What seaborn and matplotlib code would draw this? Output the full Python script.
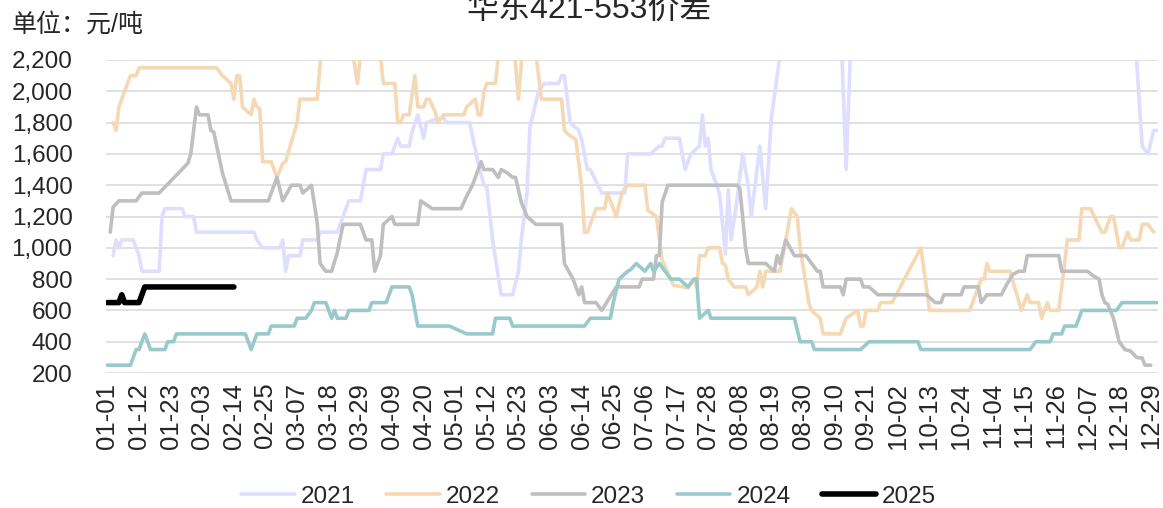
import matplotlib
matplotlib.use("Agg")
from matplotlib import pyplot as plt
from matplotlib.ticker import FuncFormatter
import pandas as pd
import seaborn as sns

# day index in a leap-year calendar (0 = 01-01), values in 元/吨
days_2021 = [2, 3, 4, 5, 9, 11, 12, 18, 19, 20, 26, 27, 30, 31, 51, 52, 54, 60, 61, 62, 63, 67, 68, 73, 74,
             80, 82, 84, 88, 90, 95, 96, 99, 101, 102, 105, 106, 108, 110, 111, 114, 117, 118, 126, 129, 131,
             132, 134, 137, 141, 143, 144, 146, 147, 150, 152, 157, 158, 159, 161, 164, 165, 167, 168, 172,
             180, 181, 189, 192, 193, 194, 199, 201, 203, 206, 207, 208, 209, 210, 212, 213, 215, 216, 217,
             219, 221, 223, 224, 227, 229, 231, 236, 255, 257, 259, 357, 360, 362, 364, 365]
vals_2021 = [950, 1050, 1000, 1050, 1050, 950, 850, 850, 1200, 1250, 1250, 1200, 1200, 1100, 1100, 1050, 1000,
             1000, 1050, 850, 950, 950, 1050, 1050, 1100, 1100, 1200, 1300, 1300, 1500, 1500, 1600, 1600, 1700,
             1650, 1650, 1740, 1850, 1700, 1800, 1820, 1830, 1800, 1800, 1540, 1400, 1390, 1050, 700, 700, 850,
             1050, 1350, 1770, 2000, 2050, 2050, 2100, 2100, 1800, 1750, 1690, 1500, 1500, 1350, 1350, 1600,
             1600, 1650, 1650, 1700, 1700, 1500, 1600, 1650, 1850, 1650, 1700, 1500, 1400, 1340, 960, 1370,
             1050, 1300, 1600, 1390, 1200, 1650, 1250, 1830, 2500, 2500, 1500, 2500, 2500, 1650, 1600, 1750, 1750]

days_2022 = [2, 3, 4, 6, 8, 10, 11, 38, 40, 43, 44, 45, 46, 47, 50, 51, 52, 53, 54, 57, 59, 61, 62, 66, 67, 73,
             75, 84, 87, 89, 94, 96, 100, 101, 102, 103, 105, 107, 108, 110, 111, 112, 114, 115, 117, 124, 125,
             128, 129, 130, 131, 132, 135, 137, 141, 143, 145, 148, 151, 158, 159, 160, 163, 165, 166, 167, 170,
             173, 174, 177, 179, 181, 187, 188, 191, 193, 197, 202, 204, 205, 206, 208, 209, 213, 214, 215, 216,
             218, 222, 223, 226, 227, 228, 229, 234, 236, 238, 240, 241, 244, 245, 248, 249, 255, 257, 261, 262,
             263, 264, 268, 269, 273, 283, 285, 286, 300, 304, 305, 306, 307, 314, 318, 320, 321, 324, 325, 327,
             328, 331, 334, 338, 339, 342, 346, 347, 349, 350, 352, 353, 355, 356, 359, 360, 362, 364]
vals_2022 = [1800, 1750, 1900, 2000, 2100, 2100, 2150, 2150, 2100, 2050, 1950, 2100, 2100, 1900, 1850, 1950,
             1900, 1890, 1550, 1550, 1450, 1540, 1550, 1800, 1950, 1950, 2400, 2400, 2050, 2400, 2400, 2050,
             2050, 1800, 1800, 1850, 1850, 2100, 1900, 1900, 1950, 1950, 1870, 1800, 1850, 1850, 1900, 1950,
             1850, 1850, 2000, 2050, 2050, 2400, 2400, 1950, 2400, 2400, 1950, 1950, 1750, 1730, 1690, 1390,
             1100, 1100, 1250, 1250, 1350, 1200, 1350, 1400, 1400, 1240, 1200, 920, 760, 745, 800, 750, 950,
             950, 1000, 1000, 900, 890, 800, 750, 750, 700, 750, 850, 750, 850, 850, 1050, 1250, 1200, 1000,
             650, 600, 550, 450, 450, 550, 600, 500, 500, 600, 600, 650, 650, 1000, 740, 600, 600, 800, 800,
             900, 850, 850, 600, 700, 650, 650, 550, 650, 600, 600, 1050, 1050, 1250, 1250, 1100, 1100, 1200,
             1200, 1000, 1000, 1100, 1050, 1050, 1150, 1150, 1100]

days_2023 = [1, 2, 4, 10, 12, 18, 28, 29, 31, 32, 35, 36, 37, 40, 43, 56, 59, 61, 64, 67, 68, 71, 73, 74, 76,
             78, 80, 82, 88, 90, 92, 93, 95, 96, 99, 100, 108, 109, 113, 123, 125, 127, 129, 130, 131, 134, 136,
             137, 139, 141, 142, 144, 146, 149, 158, 159, 162, 164, 165, 166, 170, 172, 177, 185, 186, 190, 191,
             192, 193, 195, 219, 220, 221, 222, 223, 229, 232, 233, 234, 236, 239, 243, 247, 248, 249, 255, 256,
             257, 262, 263, 265, 268, 285, 288, 290, 291, 297, 298, 303, 304, 306, 311, 313, 315, 317, 319, 320,
             331, 332, 341, 343, 345, 346, 347, 348, 350, 352, 354, 356, 358, 360, 361, 363]
vals_2023 = [1100, 1260, 1300, 1300, 1350, 1350, 1540, 1600, 1900, 1850, 1850, 1750, 1740, 1480, 1300, 1300,
             1450, 1300, 1400, 1400, 1350, 1400, 1160, 900, 850, 850, 970, 1150, 1150, 1050, 1050, 850, 950,
             1150, 1200, 1150, 1150, 1300, 1250, 1250, 1330, 1400, 1500, 1550, 1500, 1500, 1450, 1500, 1480,
             1450, 1450, 1290, 1200, 1150, 1150, 900, 800, 700, 750, 650, 650, 600, 750, 750, 800, 800, 950,
             950, 1290, 1400, 1400, 1380, 1200, 1000, 900, 900, 850, 950, 900, 1050, 950, 950, 850, 850, 750,
             750, 700, 800, 800, 750, 750, 700, 700, 650, 650, 700, 700, 750, 750, 650, 700, 700, 770, 830,
             850, 850, 950, 950, 850, 850, 820, 800, 700, 650, 640, 550, 400, 350, 340, 300, 295, 250, 250]

days_2024 = [0, 8, 10, 11, 13, 15, 20, 21, 23, 24, 48, 50, 52, 56, 57, 65, 66, 69, 71, 72, 76, 78, 79, 80, 83,
             84, 91, 92, 97, 99, 105, 106, 107, 108, 119, 125, 134, 135, 140, 141, 166, 168, 175, 176, 178, 181,
             182, 184, 187, 189, 190, 192, 194, 196, 199, 202, 204, 205, 206, 209, 210, 239, 241, 245, 246, 262,
             265, 282, 283, 321, 323, 328, 329, 332, 333, 337, 339, 351, 353, 365]
vals_2024 = [250, 250, 350, 350, 450, 350, 350, 400, 400, 450, 450, 350, 450, 450, 500, 500, 550, 550, 600, 650,
             650, 550, 600, 550, 550, 600, 600, 650, 650, 750, 750, 700, 600, 500, 500, 450, 450, 550, 550, 500,
             500, 550, 550, 650, 800, 850, 860, 900, 850, 900, 850, 900, 850, 800, 800, 750, 800, 800, 550, 600,
             550, 550, 400, 400, 350, 350, 400, 400, 350, 350, 400, 400, 450, 450, 500, 500, 600, 600, 650, 650]

days_2025 = [0, 4, 5, 6, 11, 13, 44]
vals_2025 = [650, 650, 700, 650, 650, 750, 750]

years = ["2021", "2022", "2023", "2024", "2025"]
colors = ["#DEDEFF", "#F5D8B4", "#BFBFBF", "#98CACC", "#000000"]
widths = [2.6, 2.6, 2.6, 2.6, 4.0]
series = [(days_2021, vals_2021), (days_2022, vals_2022), (days_2023, vals_2023),
          (days_2024, vals_2024), (days_2025, vals_2025)]

tick_days = list(range(0, 364, 11))
tick_labels = pd.date_range("2024-01-01", periods=366).strftime("%m-%d")
tick_labels = [tick_labels[d] for d in tick_days]

sns.set_style("white")
plt.rcParams["font.family"] = ["Liberation Sans", "Noto Sans CJK SC"]

fig = plt.figure(figsize=(11.63, 5.08), dpi=100)
ax = fig.add_axes([0.0911, 0.2657, 0.9046, 0.6162])

for year, (d, v), c, lw in zip(years, series, colors, widths):
    df = pd.DataFrame({"day": d, "value": v})
    sns.lineplot(data=df, x="day", y="value", ax=ax, color=c, linewidth=lw,
                 estimator=None, label=year, sort=False)

ax.set_xlim(-0.5, 365.5)
ax.set_ylim(200, 2200)
ax.set_yticks(range(200, 2201, 200))
ax.yaxis.set_major_formatter(FuncFormatter(lambda v, p: f"{int(v):,}"))
ax.set_xticks(tick_days)
ax.set_xticklabels(tick_labels, rotation=90)
ax.set_xlabel("")
ax.set_ylabel("")
ax.grid(axis="y", color="#D9D9D9", linewidth=1.1)
ax.grid(axis="x", visible=False)
for s in ax.spines.values():
    s.set_visible(False)
ax.tick_params(axis="y", labelsize=17.5, pad=24, length=0)
ax.tick_params(axis="x", labelsize=18.5, pad=7, length=0)

fig.text(0.507, 0.9646, "华东421-553价差", fontsize=23, ha="center", va="baseline",
         family=["Liberation Sans", "Noto Sans CJK SC"])
fig.text(0.010, 0.937, "单位：元/吨", fontsize=18, ha="left", va="baseline",
         family=["Liberation Sans", "Noto Sans CJK SC"])

ax.legend(loc="center", bbox_to_anchor=(0.506, 0.022), bbox_transform=fig.transFigure,
          ncol=5, frameon=False, fontsize=17.5, handlelength=2.2, handletextpad=0.25,
          columnspacing=1.3)

fig.savefig("out.png", dpi=100)
